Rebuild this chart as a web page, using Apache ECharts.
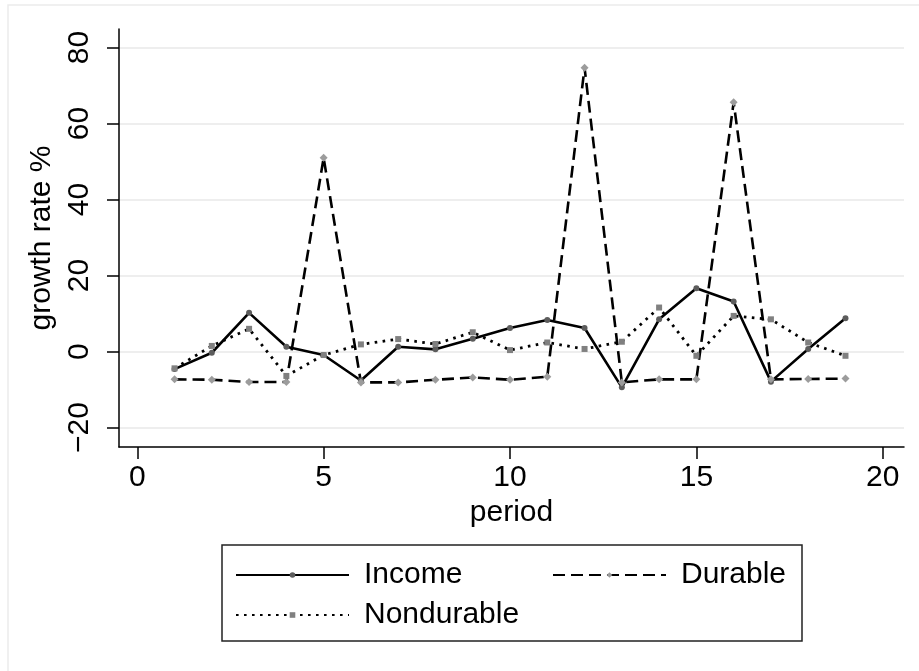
<!DOCTYPE html>
<html>
<head>
<meta charset="utf-8">
<script src="https://cdn.jsdelivr.net/npm/echarts@6/dist/echarts.min.js"></script>
<style>
  html, body { margin: 0; padding: 0; background: #fff; }
  #app { width: 919px; height: 671px; }
</style>
</head>
<body>
<div id="app"></div>
<script>
// data
var periods = [1, 2, 3, 4, 5, 6, 7, 8, 9, 10, 11, 12, 13, 14, 15, 16, 17, 18, 19];
var income = [-4.6, -0.3, 10.2, 1.3, -0.9, -7.6, 1.3, 0.6, 3.4, 6.2, 8.3, 6.2, -9.4, 8.5, 16.7, 13.2, -7.9, 0.7, 8.8];
var durable = [-7.3, -7.4, -8.0, -8.0, 51.0, -8.1, -8.1, -7.4, -6.8, -7.4, -6.6, 74.7, -8.1, -7.3, -7.3, 65.6, -7.3, -7.2, -7.1];
var nondurable = [-4.4, 1.5, 6.0, -6.4, -0.9, 1.9, 3.3, 2.0, 5.1, 0.4, 2.4, 0.7, 2.6, 11.6, -1.1, 9.4, 8.5, 2.4, -1.1];
var xTicks = [0, 5, 10, 15, 20];
var yTicks = [-20, 0, 20, 40, 60, 80];

var FONT = 'Liberation Sans, Arial, Helvetica, sans-serif';

function pairs(ys) {
    return periods.map(function (p, i) { return [p, ys[i]]; });
}
function minus(v) {
    return v < 0 ? '\u2212' + Math.abs(v) : String(v);
}

var myEchart = echarts.init(document.getElementById('app'));

var legendText = { fontFamily: FONT, fontSize: 30, color: '#000', padding: [0, 0, 0, 10] };
function legendAt(name, left, top) {
    return {
        data: [name], left: left, top: top, padding: 0,
        itemWidth: 113, itemHeight: 7, selectedMode: false,
        textStyle: legendText
    };
}

var option = {
    animation: false,
    backgroundColor: '#fff',
    textStyle: { fontFamily: FONT },
    grid: { left: 119, right: 15, top: 29, bottom: 224 },
    graphic: [
        { type: 'rect', shape: { x: 8, y: 5, width: 940, height: 720 }, style: { fill: 'none', stroke: '#ebebeb', lineWidth: 1.5 }, silent: true },
        { type: 'rect', shape: { x: 222, y: 545, width: 580, height: 96 }, style: { fill: 'none', stroke: '#222', lineWidth: 1.5 }, silent: true }
    ],
    legend: [
        legendAt('Income', 235, 560),
        legendAt('Durable', 552, 560),
        legendAt('Nondurable', 235, 600)
    ],
    xAxis: {
        type: 'value', min: -0.49, max: 20.57,
        name: 'period', nameLocation: 'middle', nameGap: 50,
        nameTextStyle: { fontFamily: FONT, fontSize: 30, color: '#000' },
        axisLine: { onZero: false, lineStyle: { color: '#000', width: 1.5 } },
        axisTick: { customValues: xTicks, length: 12, lineStyle: { color: '#000', width: 1.5 } },
        axisLabel: { customValues: xTicks, margin: 16, fontFamily: FONT, fontSize: 30, color: '#000' },
        splitLine: { show: false }
    },
    yAxis: {
        type: 'value', min: -25.1, max: 84.9,
        name: 'growth rate %', nameLocation: 'middle', nameGap: 43,
        nameTextStyle: { fontFamily: FONT, fontSize: 30, color: '#000' },
        axisLine: { show: true, onZero: false, lineStyle: { color: '#000', width: 1.5 } },
        axisTick: { show: true, customValues: yTicks, length: 12, lineStyle: { color: '#000', width: 1.5 } },
        axisLabel: { customValues: yTicks, rotate: 90, margin: 24, fontFamily: FONT, fontSize: 30, color: '#000', formatter: minus },
        splitLine: { show: true, lineStyle: { color: '#e8e8e8', width: 1.5 } }
    },
    series: [
        {
            name: 'Income', type: 'line', data: pairs(income),
            symbol: 'circle', symbolSize: 6,
            itemStyle: { color: '#5c5c5c' },
            lineStyle: { color: '#000', width: 2.6, type: 'solid' }
        },
        {
            name: 'Durable', type: 'line', data: pairs(durable),
            symbol: 'diamond', symbolSize: 8,
            itemStyle: { color: '#9c9c9c' },
            lineStyle: { color: '#000', width: 2.6, type: [12, 6] }
        },
        {
            name: 'Nondurable', type: 'line', data: pairs(nondurable),
            symbol: 'rect', symbolSize: 6,
            itemStyle: { color: '#808080' },
            lineStyle: { color: '#000', width: 2.8, type: [2.6, 5.4] }
        }
    ]
};

myEchart.setOption(option);
</script>
</body>
</html>
